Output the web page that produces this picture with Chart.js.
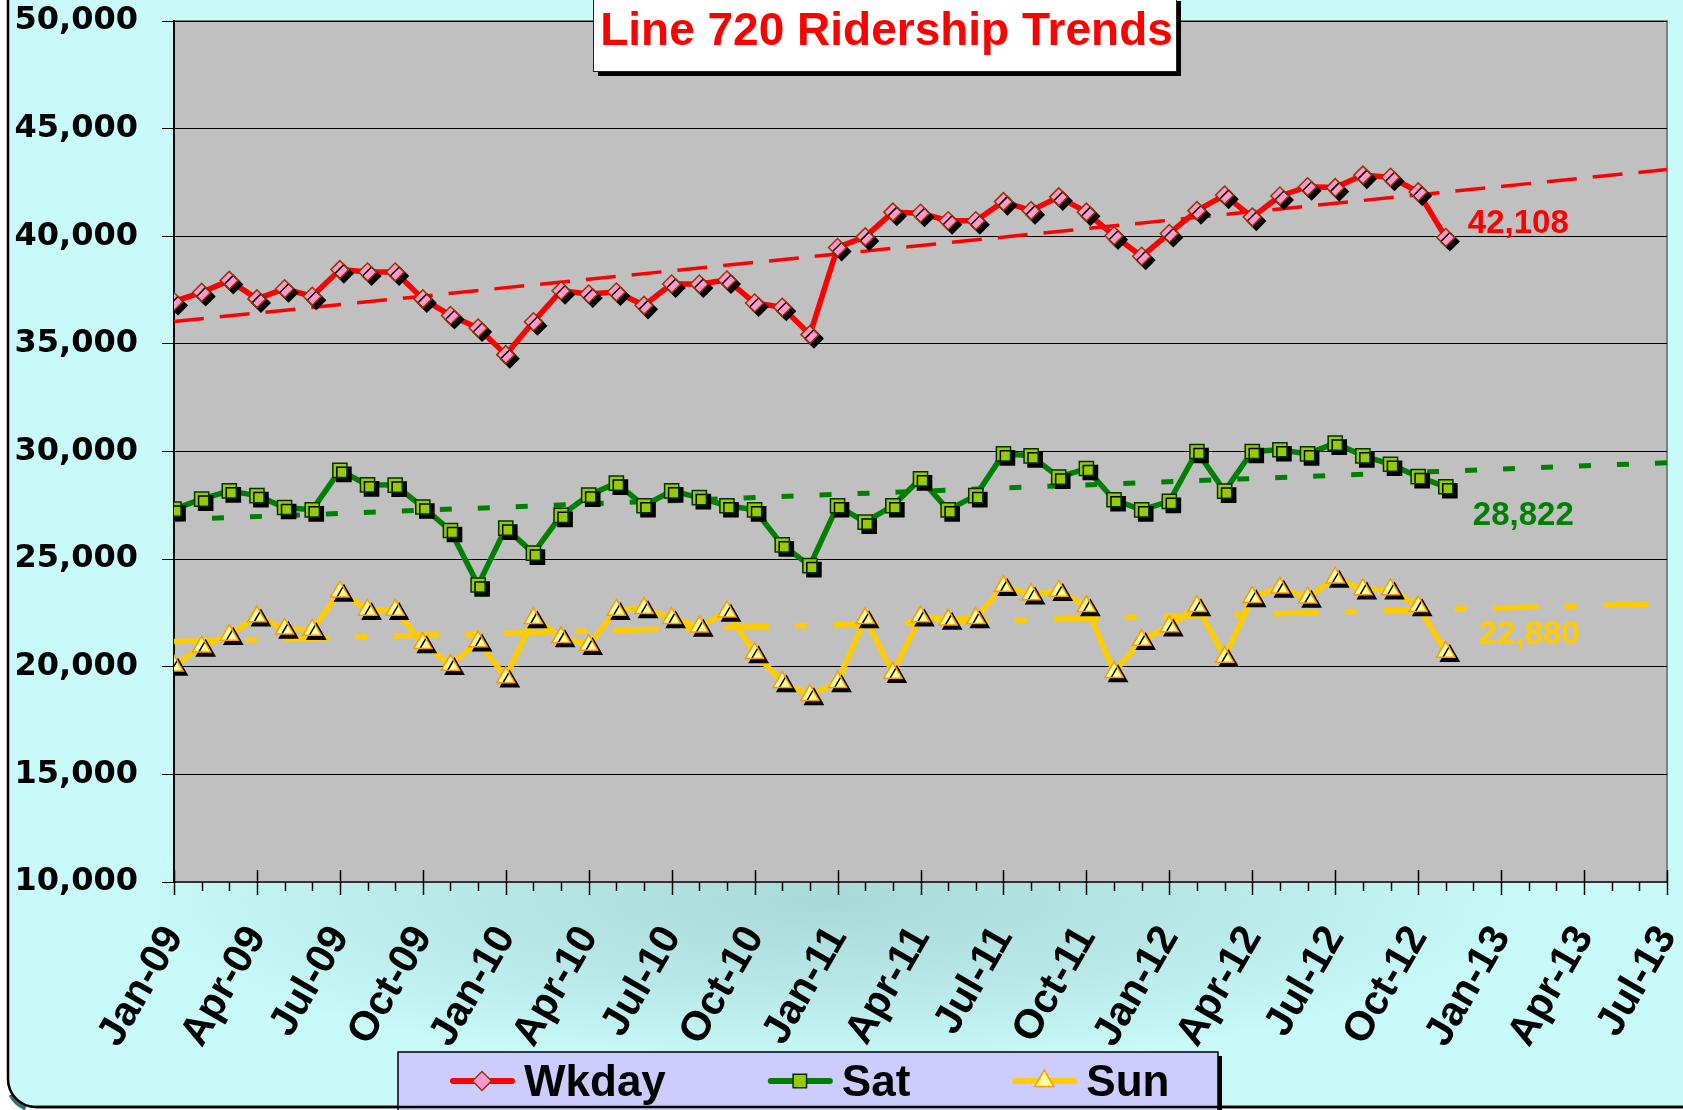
<!DOCTYPE html>
<html>
<head>
<meta charset="utf-8">
<script src="https://cdn.jsdelivr.net/npm/chart.js@4.4.0/dist/chart.umd.min.js"></script>
<style>
html,body{margin:0;padding:0;background:#fff;overflow:hidden}
canvas{display:block}
</style>
</head>
<body>
<canvas id="chartRiders" width="1683" height="1110"></canvas>
<script>
// === DATI ===
const tickLabels=["Jan-09","Apr-09","Jul-09","Oct-09","Jan-10","Apr-10","Jul-10","Oct-10","Jan-11","Apr-11",
  "Jul-11","Oct-11","Jan-12","Apr-12","Jul-12","Oct-12","Jan-13","Apr-13","Jul-13"];
const seriesNames=["Wkday","Sat","Sun"];

// monthly averages Jan-09 .. Nov-12
const wkday=[36970,37390,37950,37090,37560,37210,38450,38340,38340,37090,36320,35740,
  34500,36030,37470,37320,37410,36790,37780,37780,37970,36900,36700,35430,
  39480,39970,41120,41070,40720,40720,41610,41190,41830,41120,40020,39070,
  40130,41190,41910,40890,41870,42300,42260,42840,42740,42060,39940];
const sat=[27320,27790,28170,27950,27400,27290,29120,28450,28440,27420,26330,23800,
  26440,25280,27030,27970,28530,27480,28170,27860,27480,27290,25660,24700,
  27480,26720,27480,28730,27290,27950,29890,29800,28810,29210,27760,27290,
  27680,30000,28160,30000,30080,29890,30390,29800,29410,28830,28360];
const sun=[20050,20930,21480,22330,21760,21710,23490,22640,22640,21090,20080,21170,
  19500,22250,21370,21010,22640,22720,22250,21860,22560,20630,19280,18680,
  19280,22250,19710,22330,22180,22250,23750,23360,23520,22810,19750,21240,
  21870,22810,20450,23230,23670,23200,24140,23590,23590,22810,20690];

// trend lines (Jan-09 -> Jul-13)
const trendStart=[36040,26830,21170];
const trendEnd=[43100,29480,22930];
const endLabels=["42,108","28,822","22,880"];

// === STILI ===
const lineColors=["#FF0000","#008000","#FFCC00"];
const markFill=["#FF99CC","#99CC00","#FFFF99"];
const markBorder=["#993300","#003300","#FF9900"];
const markStyle=["rectRot","rect","triangle"];
const markRadius=[9,10,10.5];
const trendDash=[[30,16],[12,26],[45,26,12,27]];
const trendWidth=[3.5,5,5.5];
const fontSans="'Liberation Sans', Arial, sans-serif";

const lastMonth=(tickLabels.length-1)*3;
const series=[wkday,sat,sun];
const datasets=[];
series.forEach((vals,k)=>{
  const pts=vals.map((v,i)=>({x:i,y:v}));
  datasets.push({label:seriesNames[k]+" trend",data:[{x:0,y:trendStart[k]},{x:lastMonth,y:trendEnd[k]}],
    borderColor:lineColors[k],borderWidth:trendWidth[k],borderDash:trendDash[k],pointRadius:0,order:10+k});
  datasets.push({label:seriesNames[k],data:pts,borderColor:lineColors[k],borderWidth:5.5,
    pointRadius:0,borderJoinStyle:"round",order:20+k});
  datasets.push({label:seriesNames[k]+" pts",data:pts,showLine:false,pointStyle:markStyle[k],
    pointRadius:markRadius[k],pointBackgroundColor:markFill[k],pointBorderColor:markBorder[k],
    pointBorderWidth:1.5,shadow:true,order:k});
});

// === MARKER ===
function drawMarker(ctx,k,x,y,r){
  ctx.beginPath();
  if(markStyle[k]==="rectRot"){ctx.moveTo(x-r,y);ctx.lineTo(x,y-r);ctx.lineTo(x+r,y);ctx.lineTo(x,y+r);}
  else if(markStyle[k]==="rect"){const s=r*Math.SQRT1_2;ctx.rect(x-s,y-s,2*s,2*s);}
  else{ctx.moveTo(x,y-r);ctx.lineTo(x+r*0.866,y+r/2);ctx.lineTo(x-r*0.866,y+r/2);}
  ctx.closePath();
  ctx.fillStyle=markFill[k];ctx.fill();
  ctx.strokeStyle=markBorder[k];ctx.lineWidth=1.5;ctx.stroke();
}

// === PLUGIN: sfondo ===
const bgPlugin={id:"bg",beforeDraw(chart){
  const ctx=chart.ctx,a=chart.chartArea,W=chart.width,H=chart.height;
  ctx.save();
  ctx.fillStyle="#fff";ctx.fillRect(0,0,W,H);
  // bottom-left shadow of the panel
  ctx.strokeStyle="#3a6e6e";ctx.lineWidth=5;
  ctx.beginPath();ctx.arc(36,1082,28,Math.PI*0.62,Math.PI*0.85);ctx.stroke();
  const x0=8,y0=-30,x1=W+40,y1=1107,r=28;
  ctx.beginPath();
  ctx.moveTo(x0+r,y0);ctx.lineTo(x1,y0);ctx.lineTo(x1,y1);ctx.lineTo(x0+r,y1);
  ctx.arcTo(x0,y1,x0,y1-r,r);ctx.lineTo(x0,y0+r);ctx.arcTo(x0,y0,x0+r,y0,r);ctx.closePath();
  ctx.save();
  ctx.translate(830,900);ctx.scale(1,0.24);
  const g=ctx.createRadialGradient(0,0,0,0,0,700);
  g.addColorStop(0,"#A9D9D9");g.addColorStop(0.55,"#B8E8E8");g.addColorStop(1,"#C8FAFA");
  ctx.fillStyle=g;ctx.fill();
  ctx.restore();
  ctx.strokeStyle="#000";ctx.lineWidth=2.5;ctx.stroke();
  // plot area
  ctx.fillStyle="#C0C0C0";ctx.fillRect(a.left,a.top,a.width,a.height);
  ctx.strokeStyle="#808080";ctx.lineWidth=2;ctx.strokeRect(a.left,a.top,a.width,a.height);
  ctx.restore();
}};

// === PLUGIN: ombra marker ===
const shadowPlugin={id:"shadow",
  beforeDatasetDraw(chart,args){
    if(!chart.data.datasets[args.index].shadow)return;
    const ctx=chart.ctx;ctx.save();
    ctx.shadowColor="#000";ctx.shadowOffsetX=4;ctx.shadowOffsetY=4;ctx.shadowBlur=0;
  },
  afterDatasetDraw(chart,args){
    if(chart.data.datasets[args.index].shadow)chart.ctx.restore();
  }
};

// === PLUGIN: tacche asse X ===
const xTickPlugin={id:"xticks",afterDatasetsDraw(chart){
  const ctx=chart.ctx,xs=chart.scales.x,b=chart.chartArea.bottom;
  ctx.save();ctx.strokeStyle="#000";ctx.lineWidth=1.5;
  for(let i=0;i<=lastMonth;i++){
    const px=Math.round(xs.getPixelForValue(i))+0.5;
    ctx.beginPath();
    if(i%3===0){ctx.moveTo(px,b-12);ctx.lineTo(px,b+13);}
    else{ctx.moveTo(px,b);ctx.lineTo(px,b+9);}
    ctx.stroke();
  }
  ctx.restore();
}};

// === PLUGIN: etichette, titolo, legenda ===
const labelDx=[22,27,33],labelDy=[-5,38,-8];
const overlayPlugin={id:"overlay",afterDraw(chart){
  const ctx=chart.ctx;
  ctx.save();
  // end labels
  ctx.font="bold 33px "+fontSans;ctx.textAlign="left";ctx.textBaseline="alphabetic";
  [2,5,8].forEach((di,k)=>{
    const meta=chart.getDatasetMeta(di);const p=meta.data[meta.data.length-1];
    ctx.fillStyle=lineColors[k];
    ctx.fillText(endLabels[k],p.x+labelDx[k],p.y+labelDy[k]);
  });
  // title box
  const tx0=593,tx1=1176,ty0=-4,ty1=71;
  ctx.fillStyle="#000";ctx.fillRect(tx0+5,ty0+5,tx1-tx0,ty1-ty0);
  ctx.fillStyle="#fff";ctx.fillRect(tx0,ty0,tx1-tx0,ty1-ty0);
  ctx.strokeStyle="#222";ctx.lineWidth=1;ctx.strokeRect(tx0+0.5,ty0+0.5,tx1-tx0,ty1-ty0);
  ctx.fillStyle="#FF0000";ctx.font="bold 46px "+fontSans;ctx.textAlign="center";
  ctx.fillText("Line 720 Ridership Trends",(tx0+tx1)/2+2,45);
  // legend
  const lx0=398,lx1=1218,ly0=1052,ly1=1125;
  ctx.fillStyle="#000";ctx.fillRect(lx0+4,ly0+4,lx1-lx0,ly1-ly0);
  ctx.fillStyle="#CCCCFF";ctx.fillRect(lx0,ly0,lx1-lx0,ly1-ly0);
  ctx.strokeStyle="#000";ctx.lineWidth=1.5;ctx.strokeRect(lx0,ly0,lx1-lx0,ly1-ly0);
  ctx.font="bold 44px "+fontSans;ctx.textAlign="left";
  let x=450;const y=1081;
  seriesNames.forEach((name,k)=>{
    ctx.strokeStyle=lineColors[k];ctx.lineWidth=6;ctx.lineCap="round";
    ctx.beginPath();ctx.moveTo(x+3,y);ctx.lineTo(x+62,y);ctx.stroke();
    drawMarker(ctx,k,x+32,y,k===2?11:9.5);
    ctx.fillStyle="#000";ctx.fillText(name,x+74,y+15);
    x+=74+ctx.measureText(name).width+102;
  });
  // panel border bottom redraw over legend
  ctx.strokeStyle="#000";ctx.lineWidth=2.5;
  ctx.beginPath();ctx.moveTo(36,1107);ctx.lineTo(chart.width,1107);ctx.stroke();
  ctx.restore();
}};

// === GRAFICO ===
const chart=new Chart(document.getElementById("chartRiders"),{
  type:"line",
  data:{datasets:datasets},
  options:{
    responsive:false,animation:false,
    layout:{padding:{top:21,right:16,left:0,bottom:0}},
    plugins:{legend:{display:false},tooltip:{enabled:false},title:{display:false}},
    scales:{
      x:{type:"linear",min:0,max:lastMonth,
        afterFit:s=>{s.height=228;s.paddingLeft=0;s.paddingRight=0;},
        grid:{display:false,drawTicks:false},
        border:{display:true,color:"#333",width:2},
        ticks:{stepSize:3,autoSkip:false,maxRotation:60,minRotation:60,padding:36,color:"#000",
          font:{family:fontSans,size:41,weight:"bold"},
          callback:v=>tickLabels[Math.round(v/3)]||""}},
      y:{min:10000,max:50000,
        afterFit:s=>{s.width=174;s.paddingTop=0;s.paddingBottom=0;},
        grid:{color:"#000",lineWidth:1,tickLength:12,tickColor:"#000"},
        border:{display:true,color:"#000",width:2},
        ticks:{stepSize:5000,padding:24,color:"#000",
          font:{family:"'DejaVu Sans', sans-serif",size:32,weight:"bold"},
          callback:v=>v.toLocaleString("en-US")}}
    }
  },
  plugins:[bgPlugin,shadowPlugin,xTickPlugin,overlayPlugin]
});
</script>
</body>
</html>
